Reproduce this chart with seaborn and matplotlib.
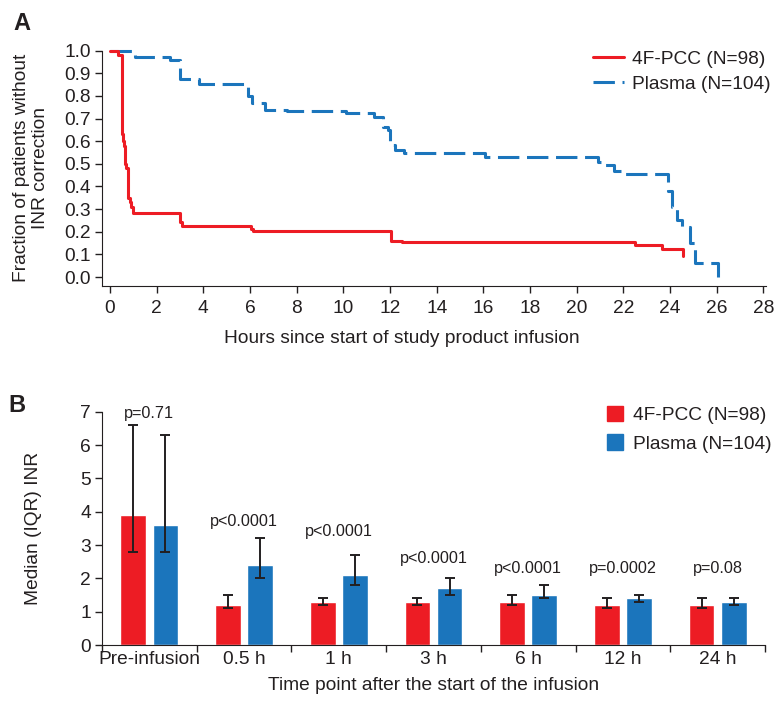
import numpy as np
import pandas as pd
import seaborn as sns
import matplotlib.pyplot as plt
from matplotlib.lines import Line2D
from matplotlib.patches import Patch
from matplotlib.container import BarContainer

# ---- panel A: fraction of patients without INR correction (step curves)
pcc_hours = [0, 0.36, 0.5, 0.52, 0.55, 0.6, 0.64, 0.7, 0.79, 0.85, 0.92, 1.0,
             3.0, 3.07, 6.03, 6.14, 12.04, 12.5, 22.5, 23.64, 24.57]
pcc_frac = [1.0, 0.98, 0.96, 0.63, 0.6, 0.58, 0.5, 0.48, 0.35, 0.33, 0.31, 0.285,
            0.245, 0.224, 0.214, 0.204, 0.16, 0.153, 0.14, 0.124, 0.093]

plasma_hours = [0, 1.07, 2.57, 3.0, 3.8, 5.93, 6.07, 6.64, 7.6, 10.1, 11.3, 11.7,
                11.9, 12.0, 12.2, 12.6, 16.07, 20.93, 21.1, 21.6, 22.0, 23.93,
                24.1, 24.3, 24.5, 24.86, 25.07, 26.07]
plasma_frac = [1.0, 0.973, 0.96, 0.873, 0.855, 0.80, 0.77, 0.74, 0.733, 0.723, 0.708, 0.664,
               0.65, 0.583, 0.56, 0.546, 0.53, 0.51, 0.496, 0.47, 0.456, 0.38,
               0.311, 0.252, 0.223, 0.15, 0.061, 0.0]

# ---- panel B: median (IQR) INR per time point
timepoints = ['Pre-infusion', '0.5 h', '1 h', '3 h', '6 h', '12 h', '24 h']
pcc_median = [3.9, 1.2, 1.3, 1.3, 1.3, 1.2, 1.2]
pcc_q1 = [2.8, 1.1, 1.2, 1.2, 1.2, 1.1, 1.1]
pcc_q3 = [6.6, 1.5, 1.4, 1.4, 1.5, 1.4, 1.4]
plasma_median = [3.6, 2.4, 2.1, 1.7, 1.5, 1.4, 1.3]
plasma_q1 = [2.8, 2.0, 1.8, 1.5, 1.4, 1.3, 1.2]
plasma_q3 = [6.3, 3.2, 2.7, 2.0, 1.8, 1.5, 1.4]
p_values = ['p=0.71', 'p<0.0001', 'p<0.0001', 'p<0.0001', 'p<0.0001', 'p=0.0002', 'p=0.08']

groups = ['4F-PCC (N=98)', 'Plasma (N=104)']

RED = '#ED1C24'
BLUE = '#1B75BC'
INK = '#231F20'

sns.set_style('ticks')
plt.rcParams['font.family'] = ['Liberation Sans', 'DejaVu Sans']
plt.rcParams['axes.edgecolor'] = INK
plt.rcParams['xtick.color'] = INK
plt.rcParams['ytick.color'] = INK
plt.rcParams['text.color'] = INK
plt.rcParams['axes.labelcolor'] = INK

FS = 13.8

fig = plt.figure(figsize=(7.76, 7.01), dpi=100)
ax_a = fig.add_axes([102 / 776, 1 - 285.7 / 701, 663.7 / 776, 235 / 701])
ax_b = fig.add_axes([102 / 776, 1 - 645 / 701, 663 / 776, 233.3 / 701])

# ---------------- panel A
sns.lineplot(x=plasma_hours, y=plasma_frac, drawstyle='steps-post', estimator=None,
             color=BLUE, lw=2.2, linestyle=(0, (7, 2.5)), ax=ax_a, clip_on=False, legend=False)
sns.lineplot(x=pcc_hours, y=pcc_frac, drawstyle='steps-post', estimator=None,
             color=RED, lw=2.2, ax=ax_a, clip_on=False, legend=False)

ax_a.set_xlim(-0.34, 28.1)
ax_a.set_ylim(-0.0384, 1.0)
ax_a.set_xticks(np.arange(0, 29, 2))
ax_a.set_yticks(np.arange(0, 1.01, 0.1))
ax_a.set_yticklabels([f'{v:.1f}' for v in np.arange(0, 1.01, 0.1)])
ax_a.tick_params(labelsize=FS, length=5, width=1, pad=3)
ax_a.tick_params(axis='x', pad=5)
ax_a.set_xlabel('Hours since start of study product infusion', fontsize=FS)
ax_a.xaxis.set_label_coords(0.452, -0.19)
ax_a.set_ylabel('Fraction of patients without\nINR correction', fontsize=FS, linespacing=1.12)
ax_a.yaxis.set_label_coords(-0.08, 0.5)
sns.despine(ax=ax_a)

handles_a = [Line2D([], [], color=RED, lw=2.2),
             Line2D([], [], color=BLUE, lw=2.2, linestyle=(0, (7, 2.5)))]
ax_a.legend(handles_a, groups, loc='upper right', bbox_to_anchor=(1.034, 1.075), frameon=False,
            fontsize=FS, handlelength=1.6, handletextpad=0.45, labelspacing=0.4)

# ---------------- panel B
bars = pd.DataFrame({
    'timepoint': timepoints * 2,
    'group': [groups[0]] * len(timepoints) + [groups[1]] * len(timepoints),
    'median': pcc_median + plasma_median,
})
sns.barplot(data=bars, x='timepoint', y='median', hue='group', order=timepoints,
            hue_order=groups, palette=[RED, BLUE], width=0.68, gap=0.2,
            errorbar=None, saturation=1, ax=ax_b, legend=False)

lows = [pcc_q1, plasma_q1]
highs = [pcc_q3, plasma_q3]
meds = [pcc_median, plasma_median]
bar_sets = [c for c in ax_b.containers if isinstance(c, BarContainer)]
for i, cont in enumerate(bar_sets):
    xs = [p.get_x() + p.get_width() / 2 for p in cont.patches]
    m = np.array(meds[i])
    ax_b.errorbar(xs, m, yerr=[m - np.array(lows[i]), np.array(highs[i]) - m],
                  fmt='none', ecolor=INK, elinewidth=1.4, capsize=3.5, capthick=1.4, zorder=3)

# heights at which the p-values sit (layout, taken from the figure)
p_text_y = [6.96, 3.72, 3.4, 2.6, 2.3, 2.3, 2.3]
for i, txt in enumerate(p_values):
    ax_b.text(i, p_text_y[i], txt, ha='center', va='center', fontsize=11.7)

ax_b.set_xlim(-0.5, 6.5)
ax_b.set_ylim(0, 7)
ax_b.set_yticks(range(8))
ax_b.set_xticks(np.arange(-0.5, 6.6, 1))
ax_b.set_xticklabels([])
ax_b.set_xticks(range(len(timepoints)), minor=True)
ax_b.set_xticklabels(timepoints, minor=True)
ax_b.tick_params(axis='x', which='minor', length=0, pad=4, labelsize=FS)
ax_b.tick_params(axis='both', which='major', length=5, width=1, labelsize=FS, pad=3)
ax_b.set_xlabel('Time point after the start of the infusion', fontsize=FS, labelpad=7)
ax_b.set_ylabel('Median (IQR) INR', fontsize=FS)
ax_b.yaxis.set_label_coords(-0.09, 0.5)
sns.despine(ax=ax_b)

handles_b = [Patch(color=RED), Patch(color=BLUE)]
ax_b.legend(handles_b, groups, loc='upper right', bbox_to_anchor=(1.036, 1.1), frameon=False,
            fontsize=FS, handlelength=0.85, handleheight=0.85, handletextpad=0.5,
            labelspacing=0.55)

fig.text(22 / 776, 1 - 23.5 / 701, 'A', fontsize=17, fontweight='bold', ha='center', va='center')
fig.text(16.5 / 776, 1 - 406 / 701, 'B', fontsize=17, fontweight='bold', ha='center', va='center')

fig.savefig('out.png', dpi=100)
